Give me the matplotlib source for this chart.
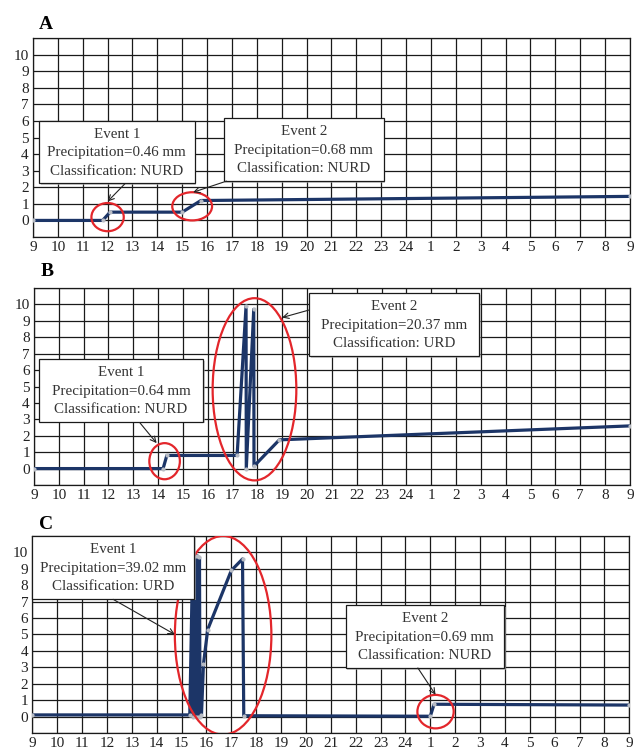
# -*- coding: utf-8 -*-
# runoff response of three storm days, hourly axis from 9h to 9h next day

import matplotlib
matplotlib.use('Agg')
import matplotlib.pyplot as plt
from matplotlib.patches import Ellipse, Rectangle

plt.rcParams['font.family'] = ['Liberation Serif', 'DejaVu Serif']

hour_labels = [str(h) for h in list(range(9, 25)) + list(range(1, 10))]
y_labels = [str(v) for v in range(0, 11)]

# series (x = hours after 9h)
a_x = [0, 2.8, 3.1, 6.0, 6.75, 24]
a_y = [0, 0, 0.5, 0.5, 1.2, 1.45]

b_x = [0, 5.2, 5.35, 8.18, 8.54, 8.55, 8.85, 8.86, 9.88, 24]
b_y = [0, 0, 0.8, 0.8, 9.9, 0, 9.7, 0.15, 1.75, 2.6]

c_x = [0, 6.33, 6.45, 6.47, 6.55, 6.57, 6.63, 6.65, 6.72, 6.74, 6.8, 6.88,
       7.05, 8.0, 8.45, 8.5, 16.0, 16.15, 24]
c_y = [0.1, 0.1, 10, 0, 9.8, 0, 9.8, 0, 9.7, 0, 0.1, 3.2,
       5.3, 8.9, 9.6, 0.05, 0.02, 0.75, 0.7]

# event annotations
a_events = ['Event 1\nPrecipitation=0.46 mm\nClassification: NURD',
            'Event 2\nPrecipitation=0.68 mm\nClassification: NURD']
b_events = ['Event 1\nPrecipitation=0.64 mm\nClassification: NURD',
            'Event 2\nPrecipitation=20.37 mm\nClassification: URD']
c_events = ['Event 1\nPrecipitation=39.02 mm\nClassification: URD',
            'Event 2\nPrecipitation=0.69 mm\nClassification: NURD']

# layout of circles / boxes / arrows: (cx, cy, w, h), (x0, y0, x1, y1), (start, tip)
a_circ = [(3.0, 0.2, 1.3, 1.7), (6.4, 0.85, 1.6, 1.7)]
a_box = [(0.24, 2.23, 6.5, 6.02), (7.67, 2.35, 14.1, 6.2)]
a_arr = [((3.69, 2.2), (3.0, 1.14)), ((7.78, 2.37), (6.44, 1.70))]

b_circ = [(5.26, 0.45, 1.23, 2.2), (8.88, 4.83, 3.37, 11.1)]
b_box = [(0.21, 2.86, 6.8, 6.68), (11.08, 6.84, 17.94, 10.7)]
b_arr = [((4.26, 2.8), (4.94, 1.55)), ((11.08, 9.66), (9.99, 9.2))]

c_circ = [(7.67, 4.95, 3.88, 12.1), (16.21, 0.3, 1.46, 2.04)]
c_box = [(-0.03, 7.19, 6.5, 11.0), (12.6, 2.96, 18.96, 6.8)]
c_arr = [((3.25, 7.14), (5.73, 5.0)), ((15.5, 2.96), (16.21, 1.33))]

panels = [
    ('A', [0.052, 0.6844, 0.9416, 0.2650], 0.9614, a_x, a_y, a_events, a_circ, a_box, a_arr),
    ('B', [0.0536, 0.3542, 0.9400, 0.2623], 0.6325, b_x, b_y, b_events, b_circ, b_box, b_arr),
    ('C', [0.051, 0.0240, 0.9416, 0.2623], 0.2952, c_x, c_y, c_events, c_circ, c_box, c_arr),
]

fig = plt.figure(figsize=(6.34, 7.51), dpi=100)

for lab, pos, ly, xs, ys, evs, circs, boxes, arrs in panels:
    ax = fig.add_axes(pos)
    ax.set_xlim(0, 24)
    ax.set_ylim(-1, 11)
    ax.set_xticks(range(25))
    ax.set_xticklabels(hour_labels, fontsize=11, color='#222222')
    ax.set_yticks(range(-1, 12))
    ax.set_yticklabels([''] + y_labels + [''], fontsize=11, color='#222222')
    ax.tick_params(length=0, pad=3)
    ax.grid(True, color='#1a1a1a', lw=0.9)
    ax.set_axisbelow(True)
    for s in ax.spines.values():
        s.set_color('#1a1a1a')
        s.set_linewidth(0.9)

    ax.plot(xs, ys, color='#1c3567', lw=2.3, zorder=3,
            marker='o', ms=2, mfc='#b8bcc4', mec='#b8bcc4')

    for cx, cy, w, h in circs:
        ax.add_patch(Ellipse((cx, cy), w, h, fill=False, ec='#e3262b', lw=1.6, zorder=4))

    for txt, (x0, y0, x1, y1) in zip(evs, boxes):
        ax.add_patch(Rectangle((x0 + 0.07, y0 - 0.1), x1 - x0, y1 - y0, fc='#b0b0b0',
                               ec='none', zorder=5, clip_on=False, alpha=0.6))
        ax.add_patch(Rectangle((x0, y0), x1 - x0, y1 - y0, fc='white', ec='#1a1a1a',
                               lw=0.9, zorder=6, clip_on=False))
        ax.text((x0 + x1) / 2, (y0 + y1) / 2 - 0.05, txt, ha='center', va='center',
                fontsize=10.8, linespacing=1.55, color='#333333', zorder=7)

    for start, tip in arrs:
        ax.annotate('', xy=tip, xytext=start, zorder=8,
                    arrowprops=dict(arrowstyle='->', lw=0.8, color='#222222',
                                    shrinkA=0, shrinkB=0))

    fig.text(pos[0] + 0.010, ly, lab, fontsize=14, fontweight='bold',
             va='baseline', ha='left')

fig.savefig('out.png', dpi=100)
